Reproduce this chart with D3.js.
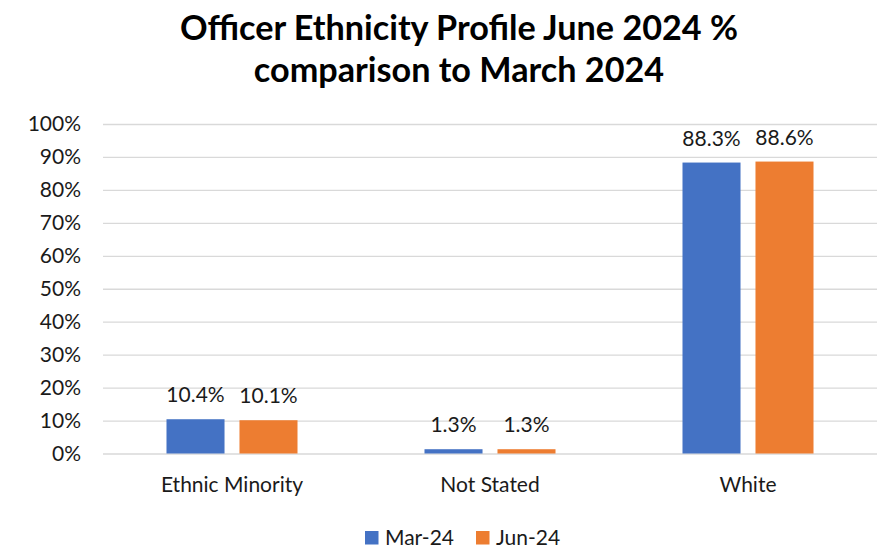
<!DOCTYPE html>
<html>
<head>
<meta charset="utf-8">
<script src="https://cdn.jsdelivr.net/npm/d3@7"></script>
<style>
  html, body { margin: 0; padding: 0; background: #fff; }
  svg { display: block; font-family: Lato, "Open Sans", sans-serif; }
</style>
</head>
<body>
<svg id="chart" width="887" height="549"></svg>
<script>
// Officer ethnicity profile, share of officers (%)
const categories = ["Ethnic Minority", "Not Stated", "White"];
const seriesNames = ["Mar-24", "Jun-24"];
const mar24 = [10.4, 1.3, 88.3];
const jun24 = [10.1, 1.3, 88.6];
const yTicks = [0, 10, 20, 30, 40, 50, 60, 70, 80, 90, 100];
const titleLines = ["Officer Ethnicity Profile June 2024 %", "comparison to March 2024"];
const colors = ["#4472C4", "#ED7D31"];

const series = [mar24, jun24];
const svg = d3.select("#chart");

const margin = { left: 103, right: 10, top: 124, bottom: 95.5 };
const W = 887, H = 549;
const fs = 21;

const x = d3.scaleBand().domain(categories)
  .range([margin.left, W - margin.right]).paddingInner(0).paddingOuter(0);
const inner = d3.scaleBand().domain(seriesNames)
  .range([0, x.bandwidth()]).paddingInner(0.205).paddingOuter(0.87);
const y = d3.scaleLinear().domain([0, 100]).range([H - margin.bottom, margin.top]);

// Title
svg.append("g").selectAll("text").data(titleLines).join("text")
  .attr("x", 459).attr("y", (d, i) => 40 + i * 42)
  .attr("text-anchor", "middle")
  .attr("font-size", 34.2).attr("font-weight", "bold").attr("fill", "#000")
  .text(d => d);

// Gridlines and y-axis labels
const yAxis = d3.axisLeft(y).tickValues(yTicks)
  .tickSize(-(W - margin.right - margin.left)).tickPadding(22)
  .tickFormat(d => d + "%");
const gy = svg.append("g").attr("transform", `translate(${margin.left},0)`).call(yAxis);
gy.select(".domain").remove();
gy.selectAll(".tick line").attr("stroke", "#D9D9D9").attr("stroke-width", 1.3);
gy.selectAll(".tick text").attr("font-size", fs).attr("fill", "#1a1a1a")
  .attr("font-family", "Lato, 'Open Sans', sans-serif");

// Bars
const groups = svg.append("g").selectAll("g").data(categories).join("g")
  .attr("transform", c => `translate(${x(c)},0)`);
groups.selectAll("rect")
  .data((c, ci) => seriesNames.map((s, si) => ({ s, si, v: series[si][ci] })))
  .join("rect")
  .attr("x", d => inner(d.s)).attr("width", inner.bandwidth())
  .attr("y", d => y(d.v)).attr("height", d => y(0) - y(d.v))
  .attr("fill", d => colors[d.si]);

// Value labels
groups.selectAll("text")
  .data((c, ci) => seriesNames.map((s, si) => ({ s, si, v: series[si][ci] })))
  .join("text")
  .attr("x", d => inner(d.s) + inner.bandwidth() / 2)
  .attr("y", d => y(d.v) - 17)
  .attr("text-anchor", "middle").attr("font-size", fs).attr("fill", "#1a1a1a")
  .text(d => d.v.toFixed(1) + "%");

// Category axis labels
const xAxis = d3.axisBottom(x).tickSize(0).tickPadding(23.3);
const gx = svg.append("g").attr("transform", `translate(0,${y(0)})`).call(xAxis);
gx.select(".domain").remove();
gx.selectAll(".tick text").attr("font-size", fs).attr("fill", "#1a1a1a")
  .attr("font-family", "Lato, 'Open Sans', sans-serif");

// Legend
const legendX = [365, 476];
const legend = svg.append("g").selectAll("g").data(seriesNames).join("g")
  .attr("transform", (d, i) => `translate(${legendX[i]},531)`);
legend.append("rect").attr("width", 13.5).attr("height", 13.5)
  .attr("fill", (d, i) => colors[i]);
legend.append("text").attr("x", 20).attr("y", 13.5)
  .attr("font-size", fs).attr("fill", "#1a1a1a").text(d => d);
</script>
</body>
</html>
